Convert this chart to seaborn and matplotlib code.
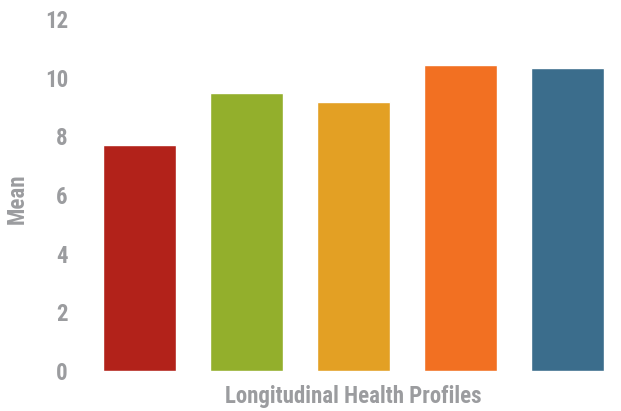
import matplotlib
matplotlib.use("Agg")
import matplotlib.pyplot as plt
import seaborn as sns
import pandas as pd

# Données
groups = ["G1", "G2", "G3", "G4", "G5"]
means = [7.70, 9.48, 9.17, 10.43, 10.33]
colors = ["#B2221A", "#93AF2C", "#E3A024", "#F27022", "#3B6D8C"]
yticks = [0, 2, 4, 6, 8, 10, 12]

sns.set_theme(style="white")
plt.rcParams["font.family"] = ["Roboto Condensed", "Liberation Sans Narrow", "Roboto", "DejaVu Sans"]
grey = "#9B9C9F"

df = pd.DataFrame({"group": groups, "mean": means})

fig = plt.figure(figsize=(6.21, 4.11), dpi=100)
ax = fig.add_axes([86 / 621, 40 / 411, 1 - 86 / 621, 352 / 411])
sns.barplot(data=df, x="group", y="mean", hue="group", palette=colors,
            width=0.675, legend=False, saturation=1, ax=ax)

ax.set_ylim(0, 12)
ax.set_xlim(-0.5, 4.5)
ax.set_yticks(yticks)
ax.set_xticks([])
for s in ax.spines.values():
    s.set_visible(False)
ax.tick_params(axis="y", length=0, pad=13, labelsize=16.5, labelcolor=grey)
for t in ax.get_yticklabels():
    t.set_fontweight("bold")

ax.set_xlabel("Longitudinal Health Profiles", fontsize=16.5, fontweight="bold",
              color=grey, va="center")
ax.xaxis.set_label_coords(0.5, -0.072)
ax.set_ylabel("Mean", fontsize=16.5, fontweight="bold", color=grey, va="center")
ax.yaxis.set_label_coords(-0.129, 0.49)

fig.savefig("out.png", dpi=100)
